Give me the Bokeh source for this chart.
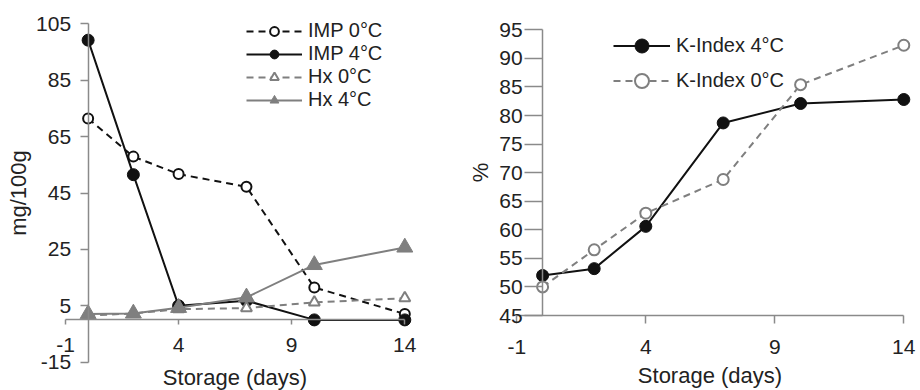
from bokeh.plotting import figure
from bokeh.models import LinearAxis, FixedTicker, Legend, LegendItem, Range1d
from bokeh.layouts import row
from bokeh.embed import file_html
from bokeh.resources import INLINE

# ---- data ----
days = [0, 2, 4, 7, 10, 14]
imp_0c = [71.4, 57.9, 51.7, 47.2, 11.5, 2.1]
imp_4c = [99.2, 51.5, 5.0, 6.8, 0.0, 0.0]
hx_0c = [1.5, 2.3, 3.8, 4.2, 6.2, 7.7]
hx_4c = [2.1, 2.3, 4.3, 8.0, 19.5, 25.7]
k_index_4c = [52.0, 53.2, 60.6, 78.7, 82.1, 82.8]
k_index_0c = [50.0, 56.5, 62.9, 68.8, 85.4, 92.3]
x_ticks = [-1, 4, 9, 14]
left_y_ticks = [-15, 5, 25, 45, 65, 85, 105]
right_y_ticks = [45, 50, 55, 60, 65, 70, 75, 80, 85, 90, 95]

FONT = "Liberation Sans"
TXT = "#222222"
AX = "#8a8a8a"
BLACK = "#111111"
GRAY = "#7f7f7f"
W = 460
H = 390


def lin_range(v0, p0, v1, p1, size, from_top=False):
    """Range so that value v0 sits at pixel p0 and v1 at pixel p1."""
    k = (v1 - v0) / (p1 - p0)
    at0 = v0 - p0 * k
    atS = v0 + (size - p0) * k
    if from_top:
        return Range1d(atS, at0)
    return Range1d(at0, atS)


def base(xr, yr):
    p = figure(width=W, height=H, x_range=xr, y_range=yr,
               output_backend="svg", toolbar_location=None,
               x_axis_location=None, y_axis_location=None,
               min_border=0)
    p.outline_line_color = None
    for g in p.grid:
        g.visible = False
    p.background_fill_color = "white"
    p.border_fill_color = "white"
    return p


def make_axis(loc, ticks, bounds, label, tick_out, lab_standoff, title_standoff):
    ax = LinearAxis(fixed_location=loc, ticker=FixedTicker(ticks=ticks),
                    bounds=bounds, axis_label=label)
    # plain hyphen-minus for negative tick labels, as in the original
    ax.major_label_overrides = {t: str(t) for t in ticks if t < 0}
    ax.axis_line_color = AX
    ax.axis_line_width = 1.5
    ax.major_tick_line_color = AX
    ax.major_tick_line_width = 1.5
    ax.major_tick_out = tick_out
    ax.major_tick_in = 0
    ax.minor_tick_line_color = None
    ax.major_label_standoff = lab_standoff
    ax.major_label_text_font = FONT
    ax.major_label_text_font_size = "21px"
    ax.major_label_text_color = TXT
    ax.axis_label_standoff = title_standoff
    ax.axis_label_text_font = FONT
    ax.axis_label_text_font_size = "22px"
    ax.axis_label_text_font_style = "normal"
    ax.axis_label_text_color = TXT
    return ax


def style_legend(lg, gw, gh):
    lg.glyph_width = gw
    lg.glyph_height = gh
    lg.label_height = gh
    lg.spacing = 0
    lg.padding = 0
    lg.margin = 0
    lg.label_standoff = 6
    lg.border_line_color = None
    lg.background_fill_alpha = 0
    lg.label_text_font = FONT
    lg.label_text_font_size = "20px"
    lg.label_text_color = TXT


# ---- left chart ----
p1 = base(lin_range(-1, 65, 14, 404.3, W),
          lin_range(105, 23.3, -15, 361.7, H, from_top=True))
p1.add_layout(make_axis(0, x_ticks, (-1, 14), "Storage (days)", 5, 13, 10), "below")
p1.add_layout(make_axis(0, left_y_ticks, (-15, 105), "mg/100g", 8, 9, 2), "left")

l1 = p1.line(days, imp_0c, line_color=BLACK, line_width=2, line_dash="7 5")
s1 = p1.scatter(days, imp_0c, marker="circle", size=10, fill_color="white",
                line_color=BLACK, line_width=2)
l2 = p1.line(days, imp_4c, line_color=BLACK, line_width=2)
s2 = p1.scatter(days, imp_4c, marker="circle", size=12, fill_color=BLACK,
                line_color=BLACK)
l3 = p1.line(days, hx_0c, line_color=GRAY, line_width=2, line_dash="7 5")
s3 = p1.scatter(days, hx_0c, marker="triangle", size=11, fill_color="white",
                line_color=GRAY, line_width=2)
l4 = p1.line(days, hx_4c, line_color=GRAY, line_width=2)
s4 = p1.scatter(days, hx_4c, marker="triangle", size=16, fill_color=GRAY,
                line_color=GRAY)

leg1 = Legend(items=[
    LegendItem(label="IMP 0°C", renderers=[l1, s1]),
    LegendItem(label="IMP 4°C", renderers=[l2, s2]),
    LegendItem(label="Hx 0°C", renderers=[l3, s3]),
    LegendItem(label="Hx 4°C", renderers=[l4, s4]),
], location=(246, 279))
style_legend(leg1, 56, 22)
p1.add_layout(leg1)

# ---- right chart ----
p2 = base(lin_range(-1, 56.3, 14, 443.3, W),
          lin_range(95, 29.3, 45, 315, H, from_top=True))
p2.add_layout(make_axis(45, x_ticks, (-1, 14), "Storage (days)", 8, 16, 6), "below")
p2.add_layout(make_axis(0, right_y_ticks, (45, 95), "%", 18, 2, 3), "left")

m1 = p2.line(days, k_index_4c, line_color=BLACK, line_width=2)
n1 = p2.scatter(days, k_index_4c, marker="circle", size=12, fill_color=BLACK,
                line_color=BLACK)
m2 = p2.line(days, k_index_0c, line_color=GRAY, line_width=2, line_dash="7 5")
n2 = p2.scatter(days, k_index_0c, marker="circle", size=11, fill_color="white",
                line_color=GRAY, line_width=2)

leg2 = Legend(items=[
    LegendItem(label="K-Index 4°C", renderers=[m1, n1]),
    LegendItem(label="K-Index 0°C", renderers=[m2, n2]),
], location=(153, 292))
style_legend(leg2, 57, 35)
p2.add_layout(leg2)

layout = row(p1, p2)
open("out.html", "w").write(file_html(layout, INLINE))
